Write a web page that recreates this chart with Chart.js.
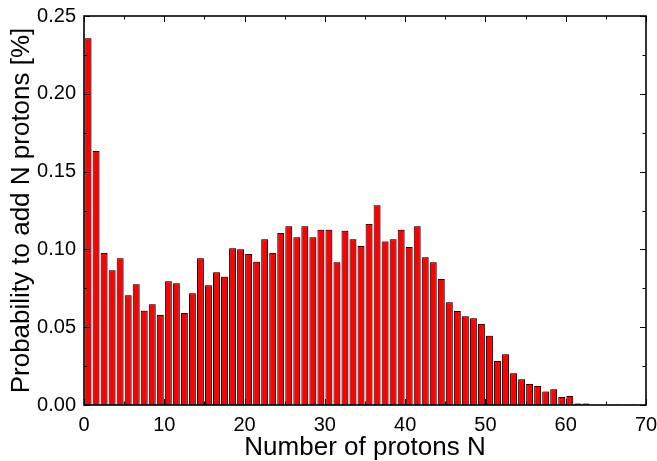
<!DOCTYPE html>
<html>
<head>
<meta charset="utf-8">
<script src="https://cdn.jsdelivr.net/npm/chart.js@4.4.1/dist/chart.umd.min.js"></script>
<style>
  html, body { margin: 0; padding: 0; background: #fff; }
  #wrap { width: 657px; height: 461px; }
</style>
</head>
<body>
<div id="wrap"><canvas id="protonChart" width="657" height="461"></canvas></div>
<script>
// number of added protons N (bars sit between N and N+1)
const protonsN = [];
for (let n = 0; n < 70; n++) protonsN.push(n);

// probability
const probability = [
  0.2357, 0.1632, 0.0977, 0.0866, 0.0943, 0.0705, 0.0776, 0.0606, 0.0647, 0.0578,
  0.0795, 0.0782, 0.0591, 0.0718, 0.0943, 0.0769, 0.0853, 0.0825, 0.1007, 0.1001,
  0.0970, 0.0921, 0.1065, 0.0977, 0.1105, 0.1148, 0.1078, 0.1148, 0.1078, 0.1127,
  0.1127, 0.0917, 0.1120, 0.1065, 0.1022, 0.1163, 0.1283, 0.1050, 0.1065, 0.1127,
  0.1015, 0.1148, 0.0949, 0.0917, 0.0810, 0.0660, 0.0604, 0.0570, 0.0557, 0.0521,
  0.0445, 0.0283, 0.0326, 0.0204, 0.0165, 0.0135, 0.0122, 0.0086, 0.0101, 0.0051,
  0.0058, 0.0009, 0.0009, 0, 0, 0, 0.0003, 0, 0.0003, 0
];

const xMajor = [0, 10, 20, 30, 40, 50, 60, 70];
const xMinor = [5, 15, 25, 35, 45, 55, 65];
const yMajor = [0, 0.05, 0.10, 0.15, 0.20, 0.25];
const yMinor = [0.025, 0.075, 0.125, 0.175, 0.225];

const fontFam = '"Liberation Sans", Arial, sans-serif';

// frame + inward ticks on all four sides, light shadow on bars
const framePlugin = {
  id: 'frame',
  beforeDatasetsDraw(chart) {
    const c = chart.ctx;
    c.save();
    c.shadowColor = 'rgba(0,0,0,0.3)';
    c.shadowOffsetX = 1;
    c.shadowOffsetY = -1;
    c.shadowBlur = 0;
  },
  afterDatasetsDraw(chart) {
    chart.ctx.restore();
  },
  afterDraw(chart) {
    const c = chart.ctx;
    const a = chart.chartArea;
    const xs = chart.scales.x, ys = chart.scales.y;
    c.save();
    c.strokeStyle = '#000';
    c.lineWidth = 1;
    c.beginPath();
    const tick = (vals, len) => {
      vals.forEach(v => {
        const px = Math.round(xs.getPixelForValue(v)) + 0.5;
        c.moveTo(px, a.bottom); c.lineTo(px, a.bottom - len);
        c.moveTo(px, a.top); c.lineTo(px, a.top + len);
      });
    };
    const tickY = (vals, len) => {
      vals.forEach(v => {
        const py = Math.round(ys.getPixelForValue(v)) + 0.5;
        c.moveTo(a.left, py); c.lineTo(a.left + len, py);
        c.moveTo(a.right, py); c.lineTo(a.right - len, py);
      });
    };
    tick(xMajor, 6); tick(xMinor, 3.5);
    tickY(yMajor, 6); tickY(yMinor, 3.5);
    c.stroke();
    c.lineWidth = 1.6;
    c.strokeRect(a.left, a.top, a.right - a.left, a.bottom - a.top);
    c.restore();
  }
};

const ctx = document.getElementById('protonChart').getContext('2d');
const protonChart = new Chart(ctx, {
  type: 'bar',
  data: {
    datasets: [{
      label: 'Probability',
      data: protonsN.map((n, i) => ({ x: n + 0.5, y: probability[i] })),
      backgroundColor: '#ff0000',
      borderColor: '#000000',
      borderWidth: 1,
      barPercentage: 0.86,
      categoryPercentage: 1.0
    }]
  },
  options: {
    responsive: false,
    animation: false,
    devicePixelRatio: 1,
    layout: { padding: { top: 16, right: 11, left: 0, bottom: 0 } },
    plugins: { legend: { display: false }, tooltip: { enabled: false } },
    scales: {
      x: {
        type: 'linear',
        min: 0, max: 70,
        offset: false,
        grid: { display: false, drawTicks: false },
        border: { display: false },
        ticks: {
          stepSize: 10,
          padding: 8,
          color: '#000',
          maxRotation: 0,
          font: { family: fontFam, size: 20 }
        },
        title: {
          display: true,
          text: 'Number of protons N',
          color: '#000',
          font: { family: fontFam, size: 26, lineHeight: 1 },
          padding: { top: 0, bottom: 0 }
        },
        afterFit(scale) {
          scale.height = 56;
          scale.paddingLeft = 0;
          scale.paddingRight = 0;
        }
      },
      y: {
        min: 0, max: 0.25,
        grid: { display: false, drawTicks: false },
        border: { display: false },
        ticks: {
          stepSize: 0.05,
          padding: 8,
          color: '#000',
          font: { family: fontFam, size: 20 },
          callback: v => v.toFixed(2)
        },
        title: {
          display: true,
          text: 'Probability to add N protons [%]',
          color: '#000',
          font: { family: fontFam, size: 26, lineHeight: 1 },
          padding: { top: 9, bottom: 0 }
        },
        afterFit(scale) {
          scale.width = 84;
          scale.paddingTop = 0;
          scale.paddingBottom = 0;
        }
      }
    }
  },
  plugins: [framePlugin]
});
</script>
</body>
</html>
